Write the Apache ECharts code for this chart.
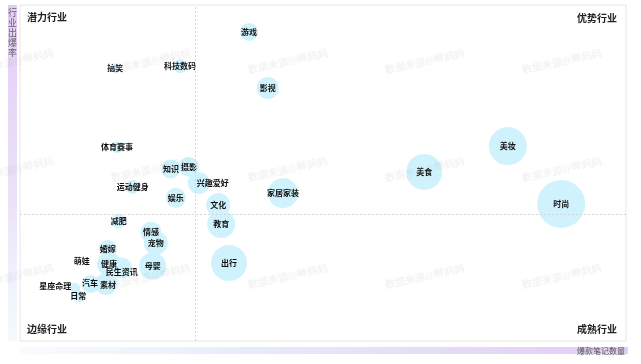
<!DOCTYPE html>
<html>
<head>
<meta charset="utf-8">
<script src="https://cdn.jsdelivr.net/npm/echarts@6/dist/echarts.min.js"></script>
<style>html,body{margin:0;padding:0;background:#fff;}#c{width:641px;height:364px;}</style>
</head>
<body>
<div id="c"></div>
<script>
const categories = ['游戏','科技数码','搞笑','影视','体育赛事','知识','摄影','兴趣爱好','运动健身','娱乐','文化','教育','出行','家居家装','美食','美妆','时尚','减肥','情感','宠物','母婴','婚嫁','萌娃','健康','民生资讯','星座命理','日常','汽车','素材'];
const xValues = [37.8,26.4,15.7,40.9,16.0,24.9,27.9,29.5,18.6,25.7,32.7,33.2,34.5,43.4,66.7,80.5,89.3,16.3,21.6,22.4,21.9,14.5,10.2,14.7,16.8,9.1,9.6,11.7,14.2];
const yValues = [92.0,81.8,81.3,75.3,57.7,51.2,51.8,47.0,45.8,42.6,40.5,34.8,23.2,44.0,50.3,58.0,40.8,35.7,32.4,29.2,22.3,27.4,23.8,22.9,21.7,15.8,13.4,17.0,17.0];
const bubbleSizes = [18,14,8,22,12,19,20,22,14,20,24,28,36,30,36,38,48,15,21,24,27,18,4,24,21,10,12,18,22];
const quadrantLabels = ['潜力行业','优势行业','边缘行业','成熟行业'];
const xAxisName = '爆款笔记数量';
const yAxisName = '行业出爆率';
const xDivider = 28.9;
const yDivider = 37.8;
const watermarkText = '数据来源@蝉妈妈';

const labelOffsets = {'兴趣爱好':[14,0],'星座命理':[-20,-2],'民生资讯':[0,4],'汽车':[-1,-1],'素材':[2,1]};

const data = categories.map((c,i)=>{
  const item = {name:c, value:[xValues[i], yValues[i], bubbleSizes[i]]};
  if (labelOffsets[c]) item.label = {offset: labelOffsets[c]};
  return item;
});

const FONT = '"Noto Sans CJK SC", "Noto Sans", sans-serif';
const graphics = [];
// axis gradient bars
graphics.push({type:'rect', left:8, top:5, shape:{width:9, height:336}, z:0,
  style:{fill:new echarts.graphic.LinearGradient(0,0,0,1,[{offset:0,color:'#e3ccf6'},{offset:0.6,color:'#ece3f9'},{offset:1,color:'rgba(225,238,252,0.3)'}])}});
graphics.push({type:'rect', left:20, top:347, shape:{width:608, height:7}, z:0,
  style:{fill:new echarts.graphic.LinearGradient(0,0,1,0,[{offset:0,color:'rgba(225,238,252,0.2)'},{offset:0.4,color:'#e6eaf9'},{offset:1,color:'#e3ccf6'}])}});
yAxisName.split('').forEach((ch,i)=>{
  graphics.push({type:'text', x:12.5, y:13+i*10, z:10,
    style:{text:ch, font:'9px '+FONT, fill:'#666', align:'center', verticalAlign:'middle'}});
});
graphics.push({type:'text', x:625, y:350.5, z:10,
  style:{text:xAxisName, font:'8px '+FONT, fill:'#555', align:'right', verticalAlign:'middle'}});
// quadrant labels
const qStyle = {font:'bold 10px '+FONT, fill:'#222', verticalAlign:'middle'};
graphics.push({type:'text', x:27, y:17, z:10, style:Object.assign({text:quadrantLabels[0], align:'left'},qStyle)});
graphics.push({type:'text', x:617, y:18, z:10, style:Object.assign({text:quadrantLabels[1], align:'right'},qStyle)});
graphics.push({type:'text', x:27, y:329, z:10, style:Object.assign({text:quadrantLabels[2], align:'left'},qStyle)});
graphics.push({type:'text', x:617, y:329, z:10, style:Object.assign({text:quadrantLabels[3], align:'right'},qStyle)});
// watermarks
[62,170,277].forEach(y=>{
  [14,151,288,425,562].forEach(x=>{
    graphics.push({type:'text', x:x, y:y, rotation:0.21, z:100, silent:true,
      style:{text:watermarkText, font:'bold 10px "DejaVu Serif", serif', fill:'rgba(150,150,150,0.11)', align:'center', verticalAlign:'middle'}});
  });
});

const chart = echarts.init(document.getElementById('c'), null, {renderer:'canvas'});
chart.setOption({
  animation:false,
  backgroundColor:'#fff',
  grid:{left:20, right:15, top:5, bottom:23, show:true, borderColor:'#e6e6e6', borderWidth:1, backgroundColor:'transparent'},
  xAxis:{type:'value', min:0, max:100, axisLine:{show:false}, axisTick:{show:false}, axisLabel:{show:false}, splitLine:{show:false}},
  yAxis:{type:'value', min:0, max:100, axisLine:{show:false}, axisTick:{show:false}, axisLabel:{show:false}, splitLine:{show:false}},
  graphic:graphics,
  series:[{
    type:'scatter',
    data:data,
    symbolSize:v=>v[2],
    itemStyle:{color:'#d0f2fd', opacity:1},
    label:{show:true, position:'inside', formatter:'{b}', color:'#111', fontSize:8, fontFamily:FONT, fontWeight:'bold'},
    emphasis:{disabled:true},
    markLine:{silent:true, symbol:'none', label:{show:false},
      lineStyle:{color:'#d6d6d6', type:[2,2], width:1},
      data:[{xAxis:xDivider},{yAxis:yDivider}]}
  }]
});
</script>
</body>
</html>
